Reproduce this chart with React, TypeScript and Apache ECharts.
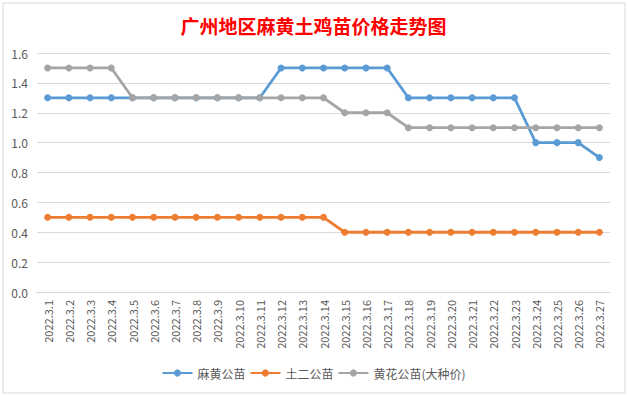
import React, { useEffect, useRef } from "react";
import * as echarts from "echarts";

const categories = [
  "2022.3.1", "2022.3.2", "2022.3.3", "2022.3.4", "2022.3.5", "2022.3.6", "2022.3.7",
  "2022.3.8", "2022.3.9", "2022.3.10", "2022.3.11", "2022.3.12", "2022.3.13", "2022.3.14",
  "2022.3.15", "2022.3.16", "2022.3.17", "2022.3.18", "2022.3.19", "2022.3.20", "2022.3.21",
  "2022.3.22", "2022.3.23", "2022.3.24", "2022.3.25", "2022.3.26", "2022.3.27",
];
const mahuang = [1.3, 1.3, 1.3, 1.3, 1.3, 1.3, 1.3, 1.3, 1.3, 1.3, 1.3, 1.5, 1.5, 1.5, 1.5, 1.5, 1.5, 1.3, 1.3, 1.3, 1.3, 1.3, 1.3, 1.0, 1.0, 1.0, 0.9];
const tuer = [0.5, 0.5, 0.5, 0.5, 0.5, 0.5, 0.5, 0.5, 0.5, 0.5, 0.5, 0.5, 0.5, 0.5, 0.4, 0.4, 0.4, 0.4, 0.4, 0.4, 0.4, 0.4, 0.4, 0.4, 0.4, 0.4, 0.4];
const huanghua = [1.5, 1.5, 1.5, 1.5, 1.3, 1.3, 1.3, 1.3, 1.3, 1.3, 1.3, 1.3, 1.3, 1.3, 1.2, 1.2, 1.2, 1.1, 1.1, 1.1, 1.1, 1.1, 1.1, 1.1, 1.1, 1.1, 1.1];
const seriesNames = ["麻黄公苗", "土二公苗", "黄花公苗(大种价)"];
const colors = ["#5B9BD5", "#ED7D31", "#A5A5A5"];
const title = "广州地区麻黄土鸡苗价格走势图";

export default function App() {
  const ref = useRef<HTMLDivElement>(null);
  useEffect(() => {
    if (!ref.current) return;
    const chart = echarts.init(ref.current, null, { renderer: "svg" });
    const font = "'Noto Sans CJK SC', 'Microsoft YaHei', sans-serif";
    const mk = (name: string, data: number[], color: string) => ({
      name,
      type: "line",
      data,
      symbol: "circle",
      symbolSize: 7,
      lineStyle: { width: 2.8, color },
      itemStyle: { color },
    });
    chart.setOption({
      animation: false,
      backgroundColor: "#ffffff",
      color: colors,
      title: {
        text: title,
        left: "center",
        top: 11,
        textStyle: { color: "#FF0000", fontSize: 19, fontWeight: "bold", fontFamily: "'Noto Sans CJK SC', serif" },
      },
      graphic: [
        {
          type: "rect",
          shape: { x: 3, y: 3, width: 622, height: 390 },
          style: { fill: "none", stroke: "#d9d9d9", lineWidth: 1 },
          silent: true,
        },
      ],
      legend: {
        bottom: 12,
        left: "center",
        itemWidth: 30,
        itemHeight: 9,
        itemGap: 4,
        textStyle: { color: "#595959", fontSize: 12, fontFamily: font },
        data: seriesNames,
      },
      grid: { left: 37, right: 17, top: 53, bottom: 104 },
      xAxis: {
        type: "category",
        data: categories,
        boundaryGap: true,
        axisLine: { lineStyle: { color: "#d9d9d9" } },
        axisTick: { show: false },
        axisLabel: { rotate: 90, interval: 0, color: "#595959", fontSize: 11, fontFamily: font, margin: 8 },
      },
      yAxis: {
        type: "value",
        min: 0,
        max: 1.6,
        interval: 0.2,
        axisLine: { show: false },
        axisTick: { show: false },
        splitLine: { lineStyle: { color: "#d9d9d9" } },
        axisLabel: { color: "#595959", fontSize: 12, fontFamily: font, formatter: (v: number) => v.toFixed(1), margin: 9 },
      },
      series: [
        mk(seriesNames[0], mahuang, colors[0]),
        mk(seriesNames[1], tuer, colors[1]),
        mk(seriesNames[2], huanghua, colors[2]),
      ],
    });
    return () => chart.dispose();
  }, []);
  return <div ref={ref} style={{ position: "fixed", left: 0, top: 0, width: 627, height: 396 }} />;
}
